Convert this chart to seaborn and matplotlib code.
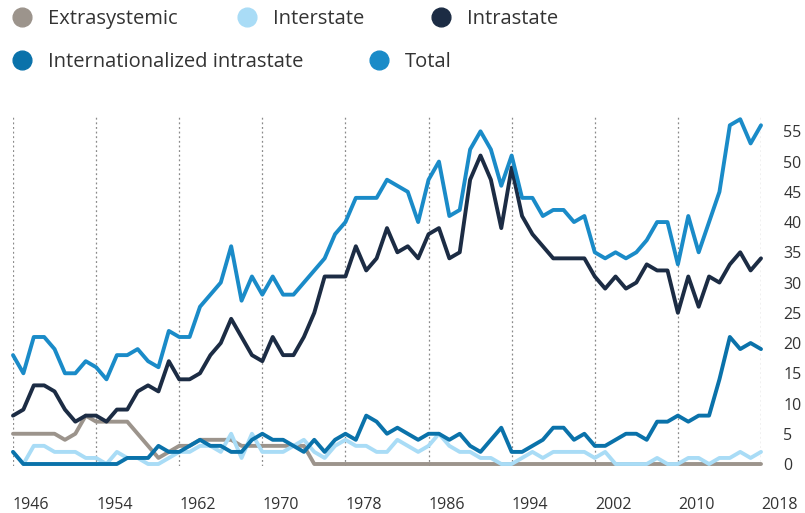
import pandas as pd
import matplotlib.pyplot as plt
from matplotlib.lines import Line2D
import seaborn as sns

# Armed conflicts by type, 1946-2018
years = list(range(1946, 2019))

extrasystemic = [5, 5, 5, 5, 5, 4, 5, 8, 7, 7,
                 7, 7, 5, 3, 1, 2, 3, 3, 4, 4,
                 4, 4, 3, 3, 3, 3, 3, 3, 3, 0,
                 0, 0, 0, 0, 0, 0, 0, 0, 0, 0,
                 0, 0, 0, 0, 0, 0, 0, 0, 0, 0,
                 0, 0, 0, 0, 0, 0, 0, 0, 0, 0,
                 0, 0, 0, 0, 0, 0, 0, 0, 0, 0,
                 0, 0, 0]
interstate = [2, 0, 3, 3, 2, 2, 2, 1, 1, 0,
              2, 1, 1, 0, 0, 1, 2, 2, 3, 3,
              2, 5, 1, 5, 2, 2, 2, 3, 4, 2,
              1, 3, 4, 3, 3, 2, 2, 4, 3, 2,
              3, 5, 3, 2, 2, 1, 1, 0, 0, 1,
              2, 1, 2, 2, 2, 2, 1, 2, 0, 0,
              0, 0, 1, 0, 0, 1, 1, 0, 1, 1,
              2, 1, 2]
intrastate = [8, 9, 13, 13, 12, 9, 7, 8, 8, 7,
              9, 9, 12, 13, 12, 17, 14, 14, 15, 18,
              20, 24, 21, 18, 17, 21, 18, 18, 21, 25,
              31, 31, 31, 36, 32, 34, 39, 35, 36, 34,
              38, 39, 34, 35, 47, 51, 47, 39, 49, 41,
              38, 36, 34, 34, 34, 34, 31, 29, 31, 29,
              30, 33, 32, 32, 25, 31, 26, 31, 30, 33,
              35, 32, 34]
internationalized = [2, 0, 0, 0, 0, 0, 0, 0, 0, 0,
                     0, 1, 1, 1, 3, 2, 2, 3, 4, 3,
                     3, 2, 2, 4, 5, 4, 4, 3, 2, 4,
                     2, 4, 5, 4, 8, 7, 5, 6, 5, 4,
                     5, 5, 4, 5, 3, 2, 4, 6, 2, 2,
                     3, 4, 6, 6, 4, 5, 3, 3, 4, 5,
                     5, 4, 7, 7, 8, 7, 8, 8, 14, 21,
                     19, 20, 19]
total = [18, 15, 21, 21, 19, 15, 15, 17, 16, 14,
         18, 18, 19, 17, 16, 22, 21, 21, 26, 28,
         30, 36, 27, 31, 28, 31, 28, 28, 30, 32,
         34, 38, 40, 44, 44, 44, 47, 46, 45, 40,
         47, 50, 41, 42, 52, 55, 52, 46, 51, 44,
         44, 41, 42, 42, 40, 41, 35, 34, 35, 34,
         35, 37, 40, 40, 33, 41, 35, 40, 45, 56,
         57, 53, 56]

series_names = ["Extrasystemic", "Interstate", "Intrastate",
                "Internationalized intrastate", "Total"]
colors = ["#9c948c", "#a9dcf6", "#1c2c44", "#0a72aa", "#1a8bc8"]
x_ticks = list(range(1946, 2019, 8))
y_ticks = list(range(0, 56, 5))

text_color = "#333333"

sns.set_style("white")
plt.rcParams['font.family'] = ['Open Sans', 'DejaVu Sans']

wide = pd.DataFrame({"year": years,
                     "Extrasystemic": extrasystemic,
                     "Interstate": interstate,
                     "Intrastate": intrastate,
                     "Internationalized intrastate": internationalized,
                     "Total": total})
data = wide.melt(id_vars="year", var_name="type", value_name="count")

fig = plt.figure(figsize=(8.05, 5.13), dpi=100)
ax = fig.add_axes([13 / 805, 1 - 466 / 513, (761 - 13) / 805, (466 - 115) / 513])

sns.lineplot(data=data, x="year", y="count", hue="type", hue_order=series_names,
             palette=dict(zip(series_names, colors)), linewidth=2.8,
             legend=False, ax=ax, clip_on=False)

ax.set_xlim(1946, 2018)
ax.set_ylim(-0.33, 57.7)
for s in ax.spines.values():
    s.set_visible(False)

ax.set_xticks(x_ticks)
ax.set_xticklabels([str(y) for y in x_ticks])
for lab in ax.get_xticklabels():
    lab.set_horizontalalignment('left')
ax.yaxis.tick_right()
ax.set_yticks(y_ticks)
ax.tick_params(axis='x', length=0, pad=22, labelsize=11.5, labelcolor=text_color)
ax.tick_params(axis='y', length=0, pad=16, labelsize=11.5, labelcolor=text_color)
ax.set_xlabel("")
ax.set_ylabel("")

ax.grid(False)
ax.xaxis.grid(True, color="#8a8a8a", linestyle=(0, (1.5, 2.2)), linewidth=0.9)
ax.set_axisbelow(True)

# legend entries laid out in two flowing rows (marker centres in pixels)
legend_spots = [(22, 19), (247, 19), (441, 19), (22, 62), (379, 62)]
font_px = 14.5 * 100 / 72
for name, c, (px, py) in zip(series_names, colors, legend_spots):
    h = Line2D([], [], marker='o', linestyle='none', markersize=13.5,
               markerfacecolor=c, markeredgecolor=c)
    fig.legend([h], [name], frameon=False, fontsize=14.5, handlelength=1.0,
               handletextpad=0.8, borderpad=0, borderaxespad=0,
               labelcolor=text_color, loc='center left',
               bbox_to_anchor=((px - font_px / 2) / 805, 1 - py / 513))

fig.savefig("out.png", dpi=100)
